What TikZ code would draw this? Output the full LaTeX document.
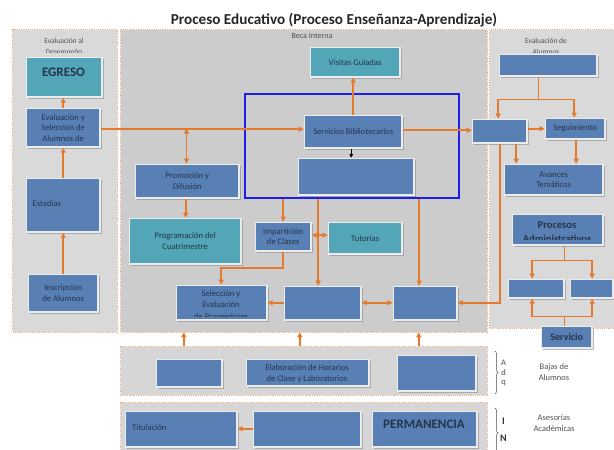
\documentclass[tikz,border=0pt]{standalone}
\usepackage{fontspec}
\setmainfont{Carlito}
\usetikzlibrary{arrows.meta,shadows,decorations.pathreplacing,calc}
\definecolor{boxblue}{RGB}{88,128,180}
\definecolor{boxteal}{RGB}{82,166,184}
\definecolor{boxedge}{RGB}{236,236,236}
\definecolor{boxtext}{RGB}{38,52,76}
\definecolor{arrorange}{RGB}{228,122,45}
\definecolor{dotorange}{RGB}{240,180,140}
\definecolor{panelA}{RGB}{217,217,217}
\definecolor{panelB}{RGB}{204,204,204}
\definecolor{panelC}{RGB}{214,214,214}
\definecolor{lblgray}{RGB}{80,80,80}
\definecolor{frameblue}{RGB}{30,30,235}
\begin{document}
\begin{tikzpicture}[x=1pt,y=-1pt,
  bxat/.style n args={4}{minimum width={(#3-#1-1.4)*1pt}, minimum height={(#4-#2-1.4)*1pt}, at={(#1+0.7,#2+0.7)}},
  pnat/.style n args={4}{minimum width={(#3-#1-0.6)*1pt}, minimum height={(#4-#2-0.6)*1pt}, at={(#1+0.3,#2+0.3)}},
  panel/.style={draw=dotorange, line width=0.6pt, dash pattern=on 1.2pt off 1pt, inner sep=0pt, anchor=north west},
  btxt/.style={font=\fontsize{8.6}{10.5}\selectfont, text=boxtext, align=center, inner sep=0pt},
  bbox/.style={fill=boxblue, draw=boxedge, line width=1.4pt, anchor=north west, inner sep=0pt,
    drop shadow={shadow xshift=1.6pt, shadow yshift=-1.6pt, fill=black!45, opacity=0.6},
    font=\fontsize{8.6}{10.5}\selectfont, text=boxtext, align=center},
  tbox/.style={bbox, fill=boxteal},
  lbl/.style={font=\fontsize{7.5}{10}\selectfont, text=lblgray, align=center, inner sep=0pt},
  side/.style={font=\fontsize{8.5}{11}\selectfont, text=lblgray, align=center, inner sep=0pt},
  bigb/.style={font=\bfseries\fontsize{13}{15}\selectfont, text=boxtext, inner sep=0pt},
  arr/.style={draw=arrorange, line width=1.6pt, -{Triangle[length=5pt,width=5pt]}},
  darr/.style={draw=arrorange, line width=1.6pt, {Triangle[length=5pt,width=5pt]}-{Triangle[length=5pt,width=5pt]}},
  ln/.style={draw=arrorange, line width=1.6pt}
]
\useasboundingbox (0,0) rectangle (614,450);

% title
\node[font=\bfseries\fontsize{15.2}{17}\selectfont, text=black!85, inner sep=0pt] (title) at (334,20) {Proceso Educativo (Proceso Enseñanza-Aprendizaje)};

% panels
\node[panel, fill=panelA, pnat={12}{29}{117}{332}] (leftpanel) {};
\node[panel, fill=panelB, pnat={120}{29}{487}{332}] (midpanel) {};
\node[panel, fill=panelA, pnat={489}{29}{622}{328}] (rightpanel) {};
\node[panel, fill=panelC, pnat={120}{346}{487}{395}] (bpanel1) {};
\node[panel, fill=panelC, pnat={120}{402}{487}{462}] (bpanel2) {};

% panel labels
\begin{scope}
\clip (12,30) rectangle (117,52.3);
\node[lbl, anchor=base] (evaldes1) at (64,43.5) {Evaluación al};
\node[lbl, anchor=base] (evaldes2) at (64,54) {Desempeño};
\end{scope}
\begin{scope}
\clip (489,30) rectangle (614,52.3);
\node[lbl, anchor=base] (evalalu1) at (546,43.5) {Evaluación de};
\node[lbl, anchor=base] (evalalu2) at (546,54) {Alumnos};
\end{scope}
\node[lbl, font=\fontsize{8}{10}\selectfont, anchor=base] (beca) at (312,38.5) {Beca Interna};

% left panel boxes
\node[tbox, bxat={25}{56}{102}{97}] (egreso) {};
\node[bigb] (egresotxt) at (63.5,72) {EGRESO};
\node[bbox, bxat={25}{107}{100}{147}] (evalsel) {Evaluación y\\Selección de\\Alumnos de};
\node[bbox, bxat={25}{177}{100}{232}] (estadias) {};
\node[btxt, anchor=west] (estadiastxt) at (32.5,204) {Estadías};
\node[bbox, bxat={27}{273}{98}{312}] (inscr) {Inscripción\\de Alumnos};

% middle panel boxes
\node[tbox, bxat={309}{46}{400}{77}] (visitas) {Visitas Guiadas};
\node[draw=frameblue, line width=1.8pt, anchor=north west, inner sep=0pt, minimum width=214pt, minimum height=104pt] (bluerect) at (244,93) {};
\node[bbox, bxat={303}{114}{402}{148}] (servbib) {Servicios Bibliotecarios};
\node[bbox, bxat={297}{157}{414}{195}] (blankin) {};
\node[bbox, bxat={134}{163}{239}{198}] (promo) {Promoción y\\Difusión};
\node[tbox, bxat={128}{217}{241}{264}] (prog) {Programación del\\Cuatrimestre};
\node[bbox, bxat={254}{221}{311}{251}] (impart) {Impartición\\de Clases};
\node[tbox, bxat={327}{221}{402}{254}] (tutor) {Tutorías};
\node[bbox, bxat={175}{284}{267}{320}] (selec) {};
\begin{scope}
\clip (176,285) rectangle (266,316.8);
\node[btxt, anchor=base] (selec1) at (221,296.5) {Selección y};
\node[btxt, anchor=base] (selec2) at (221,307.5) {Evaluación};
\node[btxt, anchor=base] (selec3) at (221,319) {de Proveedores};
\end{scope}
\node[bbox, bxat={283}{285}{361}{320}] (midblank) {};
\node[bbox, bxat={392}{285}{457}{320}] (rightblank) {};

% right panel boxes
\node[bbox, bxat={498}{53}{597}{76}] (topblank) {};
\node[bbox, bxat={471}{118}{527}{143}] (rblank) {};
\node[bbox, bxat={544}{117}{605}{139}] (seguim) {Seguimiento};
\node[bbox, bxat={503}{163}{603}{195}] (avances) {Avances\\Temáticos};
\node[bbox, bxat={511}{213}{603}{245}] (procesos) {};
\begin{scope}
\clip (512,214) rectangle (602,239.8);
\node[font=\bfseries\fontsize{10.5}{13}\selectfont, text=boxtext, inner sep=0pt, anchor=base] (procesos1) at (557,228.3) {Procesos};
\node[font=\bfseries\fontsize{10.5}{13}\selectfont, text=boxtext, inner sep=0pt, anchor=base] (procesos2) at (557,242) {Administrativos};
\end{scope}
\node[bbox, bxat={507}{278}{564}{298}] (pblank1) {};
\node[bbox, bxat={569}{278}{613}{298}] (pblank2) {};
\node[bbox, bxat={540}{325}{592}{348}, font=\bfseries\fontsize{10}{12}\selectfont] (servicio) {Servicio};

% bottom panel 1
\node[bbox, bxat={155}{358}{222}{387}] (b1) {};
\node[bbox, bxat={245}{358}{369}{386}] (elab) {};
\begin{scope}
\clip (246,359) rectangle (368,382);
\node[btxt, anchor=base] (elab1) at (307,370.5) {Elaboración de Horarios};
\node[btxt, anchor=base] (elab2) at (307,381.3) {de Clase y Laboratorios};
\end{scope}
\node[bbox, bxat={396}{354}{476}{391}] (b3) {};

% bottom panel 2
\node[bbox, bxat={124}{410}{237}{447}] (titul) {};
\node[btxt, anchor=west] (titultxt) at (132,428) {Titulación};
\node[bbox, bxat={252}{410}{361}{447}] (b2) {};
\node[bbox, bxat={371}{410}{477}{447}] (perm) {};
\node[bigb] (permtxt) at (424,424) {PERMANENCIA};

% braces and side texts
\draw[decorate, decoration={brace, amplitude=3pt}, draw=black!70, line width=0.5pt] (495,351) coordinate (br1a) -- (495,394) coordinate (br1b);
\draw[decorate, decoration={brace, amplitude=3pt}, draw=black!70, line width=0.5pt] (495,408) coordinate (br2a) -- (495,458) coordinate (br2b);
\node[side] (la) at (503.5,363) {A};
\node[side] (ld) at (503.5,373) {d};
\node[side] (lq) at (503.5,383) {q};
\node[font=\bfseries\fontsize{10}{12}\selectfont, text=black!80, inner sep=0pt] (li) at (503.5,421) {I};
\node[font=\bfseries\fontsize{10}{12}\selectfont, text=black!80, inner sep=0pt] (lnn) at (503.5,438.5) {N};
\node[side] (bajas) at (554,372.5) {Bajas de\\Alumnos};
\node[side] (asesor) at (554,423.5) {Asesorías\\Académicas};

% connectors - left
\draw[arr] (inscr.north) -- (inscr.north |- estadias.south);
\draw[arr] (estadias.north) -- (estadias.north |- evalsel.south);
\draw[arr] (evalsel.north) -- (evalsel.north |- egreso.south);
\draw[arr] ([yshift=-1.5pt]evalsel.east) -- ([yshift=-1.5pt]evalsel.east -| servbib.west);
\coordinate (j1) at (186.5,128.5);
\draw[darr] (j1) -- (j1 |- promo.north);
\draw[arr] ([xshift=-1.5pt]promo.south) -- ([xshift=-1.5pt]promo.south |- prog.north);

% connectors - middle
\draw[arr] (servbib.north) -- (servbib.north |- visitas.south);
\draw[-{Triangle[length=3.5pt,width=3.5pt]}, line width=1pt, black] ([xshift=-2pt]servbib.south) -- ([xshift=-2pt]servbib.south |- blankin.north);
\draw[arr] ([yshift=1.5pt]servbib.east) -- ([yshift=1.5pt]servbib.east -| rblank.west);
\draw[arr] (bluerect.south -| impart.north) -- (impart.north);
\draw[darr] ([yshift=1.5pt]impart.east) -- ([yshift=1.5pt]impart.east -| tutor.west);
\draw[arr] (impart.south) -- ++(0,16.5) -| ([xshift=-0.5pt]selec.north);
\draw[arr] ([xshift=-4.5pt]midblank.north |- bluerect.south) -- ([xshift=-4.5pt]midblank.north);
\draw[arr] ([xshift=-6pt]rightblank.north |- bluerect.south) -- ([xshift=-6pt]rightblank.north);
\draw[arr] ([yshift=0.5pt]midblank.west) -- ([yshift=0.5pt]midblank.west -| selec.east);
\draw[darr] ([yshift=0.5pt]midblank.east) -- ([yshift=0.5pt]midblank.east -| rightblank.west);

% connectors - right
\coordinate (tj) at (538.5,99.5);
\draw[ln] (topblank.south -| tj) -- (tj);
\draw[arr] (tj) -| ([xshift=-1.5pt]rblank.north);
\draw[arr] (tj) -| ([xshift=-1pt]seguim.north);
\draw[arr] ([yshift=2.5pt]rblank.east) -- ([yshift=2.5pt]rblank.east -| seguim.west);
\draw[arr] ([xshift=0.5pt]rblank.south) |- ([yshift=0.5pt]rightblank.east);
\draw[arr] ([xshift=16.5pt]rblank.south) -- ([xshift=16.5pt]rblank.south |- avances.north);
\draw[arr] ([xshift=1pt]seguim.south) -- ([xshift=1pt]seguim.south |- avances.north);
\coordinate (pj) at (564.5,260.5);
\draw[ln] (procesos.south -| pj) -- (pj);
\draw[arr] (pj) -| ([xshift=-4pt]pblank1.north);
\draw[arr] (pj) -| ([xshift=0.5pt]pblank2.north);
\coordinate (sj) at (564.5,316.5);
\draw[ln] (servicio.north -| sj) -- (sj);
\draw[arr] (sj) -| ([xshift=-4pt]pblank1.south);
\draw[arr] (sj) -| ([xshift=0.5pt]pblank2.south);

% connectors - bottom
\draw[arr] ([xshift=-120pt]bpanel1.north) -- ([xshift=-120pt]bpanel1.north |- midpanel.south);
\draw[arr] ([xshift=-4pt]bpanel1.north) -- ([xshift=-4pt]bpanel1.north |- midpanel.south);
\draw[arr] ([xshift=115pt]bpanel1.north) -- ([xshift=115pt]bpanel1.north |- midpanel.south);
\draw[arr] ([yshift=0.5pt]b2.west) -- ([yshift=0.5pt]b2.west -| titul.east);
\end{tikzpicture}
\end{document}
